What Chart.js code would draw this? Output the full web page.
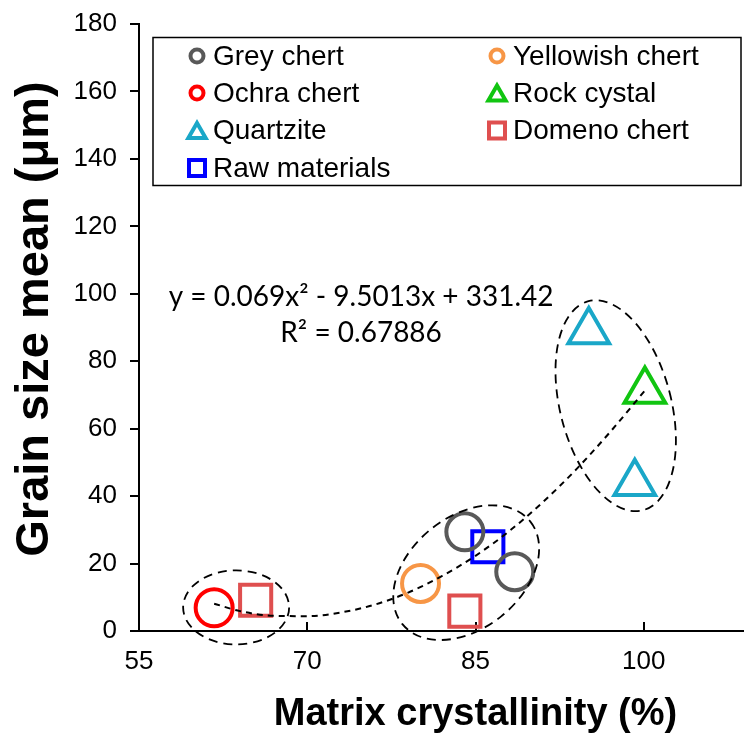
<!DOCTYPE html>
<html>
<head>
<meta charset="utf-8">
<script src="https://cdn.jsdelivr.net/npm/chart.js@4.4.1/dist/chart.umd.min.js"></script>
<style>
  html, body { margin: 0; padding: 0; background: #fff; overflow: hidden; }
  #wrap { width: 744px; height: 733px; overflow: hidden; }
  canvas { display: block; }
</style>
</head>
<body>
<div id="wrap"><canvas id="chart" width="812" height="733"></canvas></div>
<script>
// values (x = matrix crystallinity %, y = grain size mean µm)
const greyX = [84.05, 88.5];
const greyY = [29.4, 17.6];
const yellowX = [80.1];
const yellowY = [14.1];
const ochraX = [61.7];
const ochraY = [6.9];
const rockX = [100.1];
const rockY = [71.2];
const quartzX = [95.1, 99.2];
const quartzY = [88.8, 43.8];
const domenoX = [65.4, 84.05];
const domenoY = [9.1, 5.9];
const rawX = [86.1];
const rawY = [25.0];

// dashed polynomial trend line
const trendX = [61.7, 64, 67, 70, 73, 76, 79, 82, 85, 88, 91, 94, 97, 100.1];
const trendY = [8.1, 5.9, 4.5, 4.4, 5.5, 7.8, 11.4, 16.3, 22.3, 29.6, 38.2, 48.0, 59.0, 71.3];

const xTicks = [55, 70, 85, 100, 115];
const yTicks = [0, 20, 40, 60, 80, 100, 120, 140, 160, 180];

const seriesNames = ['Grey chert', 'Yellowish chert', 'Ochra chert', 'Rock cystal', 'Quartzite', 'Domeno chert', 'Raw materials'];
const equationText = ['y = 0.069x\u00B2 - 9.5013x + 331.42', 'R\u00B2 = 0.67886'];

// group rings: centre in data units
const ringX = [63.66, 84.17, 97.5];
const ringY = [7.0, 17.3, 66.8];
const ringShape = [
  { rx: 53, ry: 37, rot: 0 },
  { rx: 82, ry: 56, rot: -38.7 },
  { rx: 55.5, ry: 108, rot: -14.6 }
];

function pts(xs, ys) {
  return xs.map((x, i) => ({ x: x, y: ys[i] }));
}

const styles = [
  { color: '#595959', shape: 'circle', r: 18.5 },
  { color: '#F79646', shape: 'circle', r: 18.5 },
  { color: '#FF0000', shape: 'circle', r: 18.5 },
  { color: '#11C511', shape: 'triangle', r: 23.5 },
  { color: '#1AA7C8', shape: 'triangle', r: 23.5 },
  { color: '#DF4F4F', shape: 'rect', r: 22 },
  { color: '#0000FF', shape: 'rect', r: 22 }
];
const series = [
  pts(greyX, greyY), pts(yellowX, yellowY), pts(ochraX, ochraY), pts(rockX, rockY),
  pts(quartzX, quartzY), pts(domenoX, domenoY), pts(rawX, rawY)
];

const datasets = [{
  type: 'line',
  label: 'trend',
  data: pts(trendX, trendY),
  borderColor: '#000',
  borderWidth: 2,
  borderDash: [6, 5],
  pointRadius: 0,
  cubicInterpolationMode: 'monotone',
  order: 0
}];
seriesNames.forEach((name, i) => {
  datasets.push({
    type: 'scatter',
    label: name,
    data: series[i],
    pointStyle: styles[i].shape,
    pointRadius: styles[i].r,
    pointHoverRadius: styles[i].r,
    pointBorderWidth: 4,
    pointBorderColor: styles[i].color,
    pointBackgroundColor: 'rgba(0,0,0,0)',
    order: 1
  });
});

function drawMarker(ctx, shape, x, y, r, color) {
  ctx.save();
  ctx.strokeStyle = color;
  ctx.lineWidth = 4;
  ctx.beginPath();
  if (shape === 'circle') {
    ctx.arc(x, y, r, 0, Math.PI * 2);
  } else if (shape === 'rect') {
    ctx.rect(x - r, y - r, 2 * r, 2 * r);
  } else {
    y += r / 4;
    ctx.moveTo(x, y - r);
    ctx.lineTo(x + r * 0.866, y + r / 2);
    ctx.lineTo(x - r * 0.866, y + r / 2);
    ctx.closePath();
  }
  ctx.stroke();
  ctx.restore();
}

const extras = {
  id: 'extras',
  afterDatasetsDraw(chart) {
    const ctx = chart.ctx;
    const xs = chart.scales.x, ys = chart.scales.y;

    // dashed rings around the groups
    ctx.save();
    ctx.strokeStyle = '#000';
    ctx.lineWidth = 1.8;
    ctx.setLineDash([9, 6]);
    ringX.forEach((v, i) => {
      const s = ringShape[i];
      ctx.beginPath();
      ctx.ellipse(xs.getPixelForValue(v), ys.getPixelForValue(ringY[i]), s.rx, s.ry, s.rot * Math.PI / 180, 0, Math.PI * 2);
      ctx.stroke();
    });
    ctx.restore();

    // trend equation
    ctx.save();
    ctx.fillStyle = '#000';
    ctx.font = '28px Lato, "Open Sans", sans-serif';
    ctx.textAlign = 'center';
    ctx.textBaseline = 'middle';
    ctx.fillText(equationText[0], xs.getPixelForValue(74.8), ys.getPixelForValue(99));
    ctx.fillText(equationText[1], xs.getPixelForValue(74.8), ys.getPixelForValue(88.4));
    ctx.restore();

    // legend box
    ctx.save();
    ctx.strokeStyle = '#000';
    ctx.lineWidth = 1.5;
    ctx.strokeRect(153, 37.5, 588, 148);
    ctx.font = '28px "Liberation Sans", Arial, sans-serif';
    ctx.fillStyle = '#000';
    ctx.textBaseline = 'middle';
    const colX = [197, 497];
    const rowY = [56, 93, 130.5, 168];
    const legR = { circle: 6.5, triangle: 10, rect: 8 };
    seriesNames.forEach((name, i) => {
      const cx = colX[i % 2], cy = rowY[Math.floor(i / 2)];
      drawMarker(ctx, styles[i].shape, cx, cy, legR[styles[i].shape], styles[i].color);
      ctx.fillText(name, cx + 16, cy + 1);
    });
    ctx.restore();

    // y axis title
    ctx.save();
    ctx.translate(35, 319);
    ctx.rotate(-Math.PI / 2);
    ctx.font = 'bold 47px "Liberation Sans", Arial, sans-serif';
    ctx.fillStyle = '#000';
    ctx.textAlign = 'center';
    ctx.textBaseline = 'middle';
    ctx.fillText('Grain size mean (\u03BCm)', 0, 0);
    ctx.restore();
  }
};

const tickFont = { family: '"Liberation Sans", Arial, sans-serif', size: 26 };

new Chart(document.getElementById('chart'), {
  data: { datasets: datasets },
  options: {
    responsive: false,
    animation: false,
    layout: { autoPadding: false, padding: { left: 0, top: 24, right: 0, bottom: 0 } },
    plugins: { legend: { display: false }, tooltip: { enabled: false } },
    scales: {
      x: {
        type: 'linear',
        min: 55,
        max: 115,
        afterBuildTicks: s => { s.ticks = xTicks.map(v => ({ value: v })); },
        afterFit: s => { s.height = 102; s.paddingLeft = 0; s.paddingRight = 0; },
        border: { display: true, color: '#000', width: 2 },
        grid: { display: true, drawOnChartArea: false, drawTicks: true, tickLength: -9, color: '#000', lineWidth: 2 },
        ticks: { color: '#000', font: tickFont, padding: 24, maxRotation: 0 },
        title: {
          display: true,
          text: 'Matrix crystallinity (%)',
          color: '#000',
          font: { family: '"Liberation Sans", Arial, sans-serif', size: 38, weight: 'bold' },
          padding: { top: 0, bottom: -4 }
        }
      },
      y: {
        type: 'linear',
        min: 0,
        max: 180,
        afterBuildTicks: s => { s.ticks = yTicks.map(v => ({ value: v })); },
        afterFit: s => { s.width = 139; s.paddingTop = 0; s.paddingBottom = 0; },
        border: { display: true, color: '#000', width: 2 },
        grid: { display: true, drawOnChartArea: false, drawTicks: true, tickLength: 9, color: '#000', lineWidth: 2 },
        ticks: { color: '#000', font: tickFont, padding: 13 }
      }
    }
  },
  plugins: [extras]
});
</script>
</body>
</html>
